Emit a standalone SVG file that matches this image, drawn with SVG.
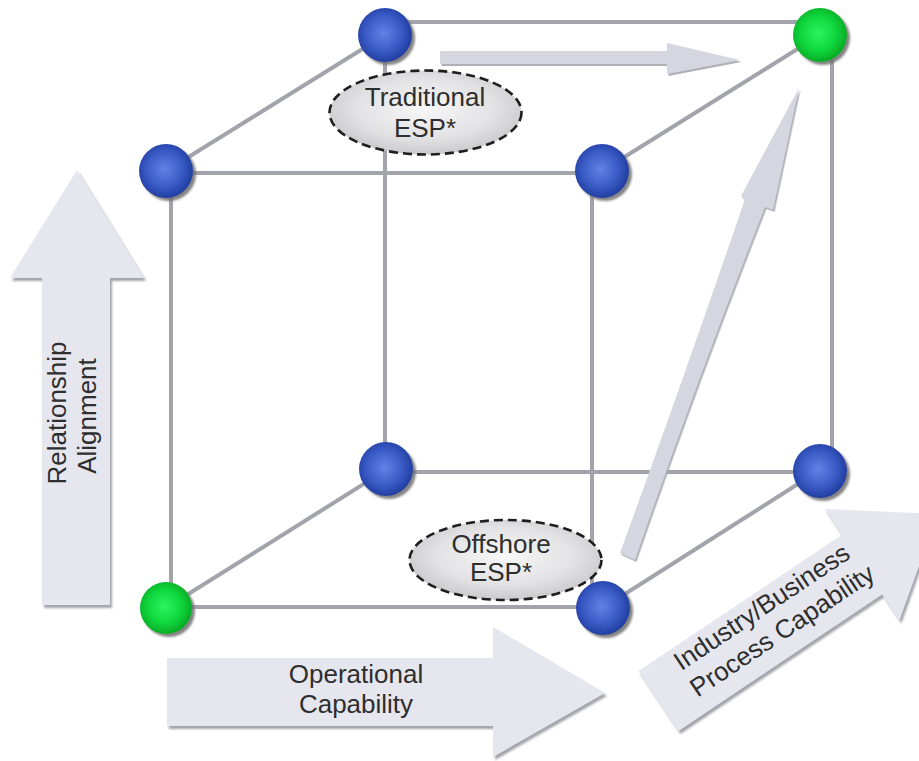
<svg xmlns="http://www.w3.org/2000/svg" width="919" height="761" viewBox="0 0 919 761">
  <defs>
    <radialGradient id="blueBall" cx="0.47" cy="0.47" r="0.55">
      <stop offset="0" stop-color="#6183e6"/>
      <stop offset="0.6" stop-color="#3a5bc6"/>
      <stop offset="1" stop-color="#1f3c9e"/>
    </radialGradient>
    <radialGradient id="greenBall" cx="0.47" cy="0.47" r="0.55">
      <stop offset="0" stop-color="#2af560"/>
      <stop offset="0.6" stop-color="#0fd63c"/>
      <stop offset="1" stop-color="#03a823"/>
    </radialGradient>
    <radialGradient id="bubble" cx="0.5" cy="0.45" r="0.6">
      <stop offset="0" stop-color="#f7f7f8"/>
      <stop offset="0.6" stop-color="#e2e2e4"/>
      <stop offset="1" stop-color="#c4c4c8"/>
    </radialGradient>
    <filter id="ballShadow" x="-30%" y="-30%" width="170%" height="170%">
      <feDropShadow dx="3" dy="3" stdDeviation="1.2" flood-color="#6e6e6e" flood-opacity="0.85"/>
    </filter>
    <filter id="arrowShadow" x="-10%" y="-10%" width="120%" height="120%">
      <feDropShadow dx="2" dy="3" stdDeviation="0.8" flood-color="#9a9aa2" flood-opacity="0.9"/>
    </filter>
    <filter id="thinShadow" x="-10%" y="-10%" width="120%" height="120%">
      <feDropShadow dx="1.5" dy="2" stdDeviation="0.7" flood-color="#a8a8b0" flood-opacity="0.9"/>
    </filter>
    <style>
      .edge { stroke: #a3a3ab; stroke-width: 4; fill: none; stroke-linecap: butt; }
      .ball-blue { fill: url(#blueBall); filter: url(#ballShadow); }
      .ball-green { fill: url(#greenBall); filter: url(#ballShadow); }
      .bubble { fill: url(#bubble); stroke: #1e1e1e; stroke-width: 2.6; stroke-dasharray: 9 5; }
      .big-arrow { fill: #e6e6ef; }
      .thin-arrow { fill: #d5d6df; }
      .label { font-family: "Liberation Sans", Arial, sans-serif; font-size: 26px; fill: #2e2e2e; text-anchor: middle; }
    </style>
  </defs>

  <rect x="0" y="0" width="919" height="761" fill="#ffffff"/>

  <!-- cube edges -->
  <g id="connectors">
    <line class="edge" x1="386" y1="22" x2="820" y2="22"/>
    <line class="edge" x1="166" y1="173" x2="602" y2="173"/>
    <line class="edge" x1="386" y1="472" x2="820" y2="472"/>
    <line class="edge" x1="166" y1="607" x2="603" y2="607"/>
    <line class="edge" x1="171" y1="171" x2="171" y2="608"/>
    <line class="edge" x1="385" y1="35" x2="385" y2="470"/>
    <line class="edge" x1="592" y1="171" x2="592" y2="608"/>
    <line class="edge" x1="832" y1="35" x2="832" y2="470"/>
    <line class="edge" x1="166" y1="171" x2="385" y2="35"/>
    <line class="edge" x1="602" y1="171" x2="820" y2="35"/>
    <line class="edge" x1="166" y1="608" x2="386" y2="470"/>
    <line class="edge" x1="603" y1="608" x2="820" y2="470"/>
  </g>

  <!-- flow arrows inside the cube -->
  <g id="arrow-top" filter="url(#thinShadow)">
    <polygon class="thin-arrow" points="440,51 667,51 667,43 740,60 667,74 667,64 440,64"/>
  </g>
  <g id="arrow-diagonal" filter="url(#thinShadow)">
    <path class="thin-arrow" d="M620,553 Q686,372 745,199 L741,196 L799,88 L773,210 L765,207 Q696,383 635,560 Z"/>
  </g>

  <!-- labelled ellipses -->
  <g id="traditional-esp">
    <ellipse class="bubble" cx="425.5" cy="112.5" rx="96" ry="42"/>
    <text class="label" x="425" y="106">Traditional</text>
    <text class="label" x="425" y="137">ESP*</text>
  </g>
  <g id="offshore-esp">
    <ellipse class="bubble" cx="505.5" cy="560" rx="96" ry="40"/>
    <text class="label" x="501" y="553">Offshore</text>
    <text class="label" x="501" y="581">ESP*</text>
  </g>

  <!-- cube corners -->
  <g id="node-back-top-left"><circle class="ball-blue" cx="385" cy="35" r="27"/></g>
  <g id="node-back-top-right"><circle class="ball-green" cx="820" cy="35" r="27"/></g>
  <g id="node-front-top-left"><circle class="ball-blue" cx="166" cy="171" r="27"/></g>
  <g id="node-front-top-right"><circle class="ball-blue" cx="602" cy="171" r="27"/></g>
  <g id="node-back-bottom-left"><circle class="ball-blue" cx="386" cy="469" r="27"/></g>
  <g id="node-back-bottom-right"><circle class="ball-blue" cx="820" cy="471" r="27"/></g>
  <g id="node-front-bottom-left"><circle class="ball-green" cx="166" cy="608" r="26"/></g>
  <g id="node-front-bottom-right"><circle class="ball-blue" cx="603" cy="608" r="27"/></g>

  <!-- axis arrows -->
  <g id="axis-relationship" filter="url(#arrowShadow)">
    <polygon class="big-arrow" points="42,605 42,278 10,278 77,170 144,278 110,278 110,605"/>
  </g>
  <text class="label" x="66" y="413" transform="rotate(-90 66 413)">Relationship</text>
  <text class="label" x="96" y="416" transform="rotate(-90 96 416)">Alignment</text>

  <g id="axis-operational" filter="url(#arrowShadow)">
    <polygon class="big-arrow" points="167,658 493,658 493,627 605,693 493,757 493,726 167,726"/>
  </g>
  <text class="label" x="356" y="683">Operational</text>
  <text class="label" x="356" y="713">Capability</text>

  <g id="axis-industry" filter="url(#arrowShadow)">
    <g transform="translate(658.5 701) rotate(-33.8)">
      <polygon class="big-arrow" points="0,-36 245,-36 245,-67 336,0 245,67 245,36 0,36"/>
    </g>
  </g>
  <g transform="translate(658.5 701) rotate(-33.8)">
    <text class="label" x="138" y="-12">Industry/Business</text>
    <text class="label" x="142" y="19">Process Capability</text>
  </g>
</svg>
